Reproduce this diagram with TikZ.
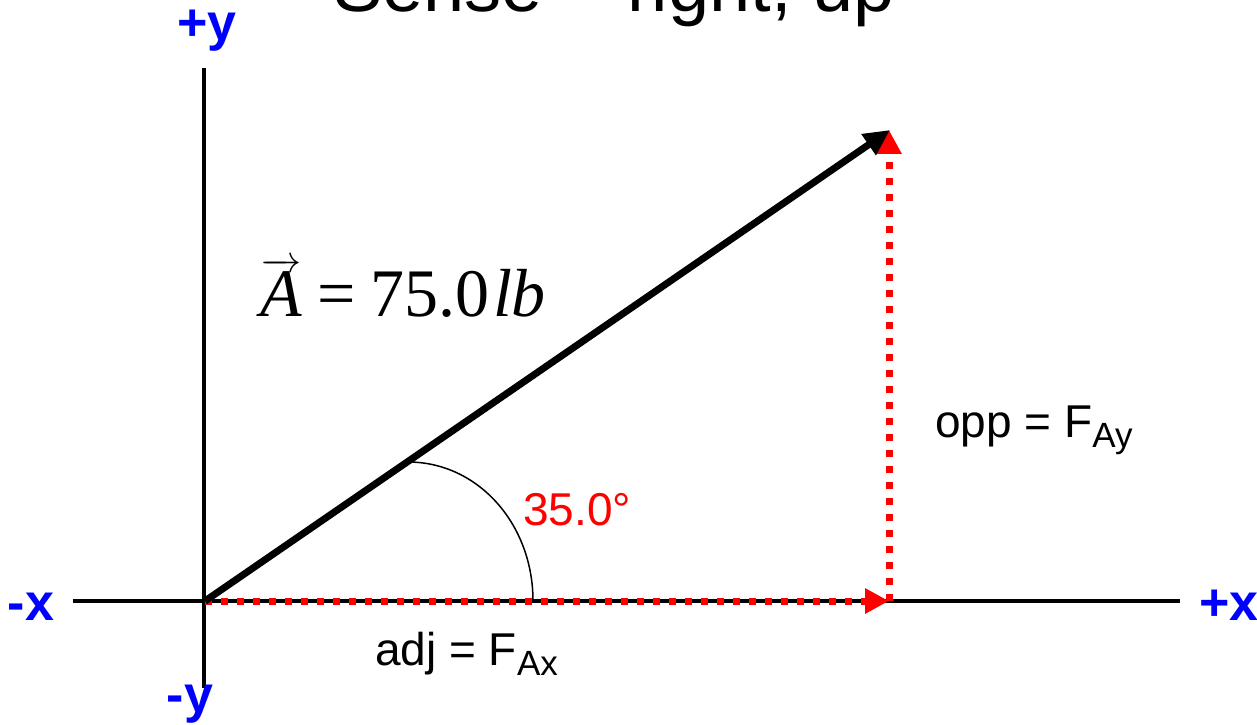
\RequirePackage{fix-cm}
\documentclass[tikz,border=0pt]{standalone}
\usepackage{fontspec}
\setmainfont{Liberation Sans}
\newfontfamily\timesfont{Liberation Serif}
\usetikzlibrary{arrows.meta}

\newcommand{\lowsub}[1]{\raisebox{-10pt}{\fontsize{35}{40}\selectfont #1}}

\begin{document}
\begin{tikzpicture}[x=1pt, y=1pt,
  axis/.style={line width=4pt},
  axislabel/.style={text=blue, inner sep=0pt, anchor=base, font=\fontsize{52}{60}\selectfont\bfseries},
  comp/.style={red, line width=7pt, dash pattern=on 7pt off 9pt, -{Triangle[length=24pt,width=24pt]}},
  lbl/.style={inner sep=0pt, anchor=base west, font=\fontsize{46}{54}\selectfont}]
  \useasboundingbox (0,0) rectangle (1257,724);
  % axes
  \coordinate (xneg) at (73,123);
  \coordinate (xpos) at (1180,123);
  \coordinate (yneg) at (204,36);
  \coordinate (ypos) at (204,656);
  \draw[axis] (xneg) -- (xpos);
  \draw[axis] (yneg) -- (ypos);
  \node[axislabel] (lxneg) at (31,104) {-x};
  \node[axislabel] (lxpos) at (1229,104) {+x};
  \node[axislabel] (lyneg) at (190,12) {-y};
  \node[axislabel] (lypos) at (207,683) {+y};
  % title
  \node[inner sep=0pt, anchor=base, font=\fontsize{74}{80}\selectfont] (title) at (614,712) {Sense = right, up};
  % components
  \coordinate (O) at (205,123);
  \coordinate (corner) at (889,123);
  \coordinate (tipA) at (890,594);
  \coordinate (tipFy) at (889,594);
  \draw[comp] (O) -- (corner);
  \draw[comp] (corner) -- (tipFy);
  % vector
  \draw[line width=7pt, -{Triangle[length=26pt,width=24pt]}] (O) -- (tipA);
  % angle
  \coordinate (arcstart) at (533,123);
  \coordinate (arcend) at (408,262);
  \draw[line width=1.5pt] (arcstart) .. controls (533,200) and (478,262) .. (arcend);
  \node[lbl, text=red] (angle) at (523,199) {35.0°};
  \node[lbl] (adj) at (375,59) {adj = F\lowsub{Ax}};
  \node[lbl] (opp) at (935,287) {opp = F\lowsub{Ay}};
  \node[inner sep=0pt, anchor=base west, font=\timesfont\fontsize{68}{74}\selectfont] (magA) at (260,408)
    {{\fontsize{38}{40}\selectfont$\overrightarrow{\hbox{\fontsize{68}{74}\selectfont\itshape A}}$}\hspace{16pt}=\hspace{14pt}75.0\hspace{4pt}{\itshape lb}};
\end{tikzpicture}
\end{document}
